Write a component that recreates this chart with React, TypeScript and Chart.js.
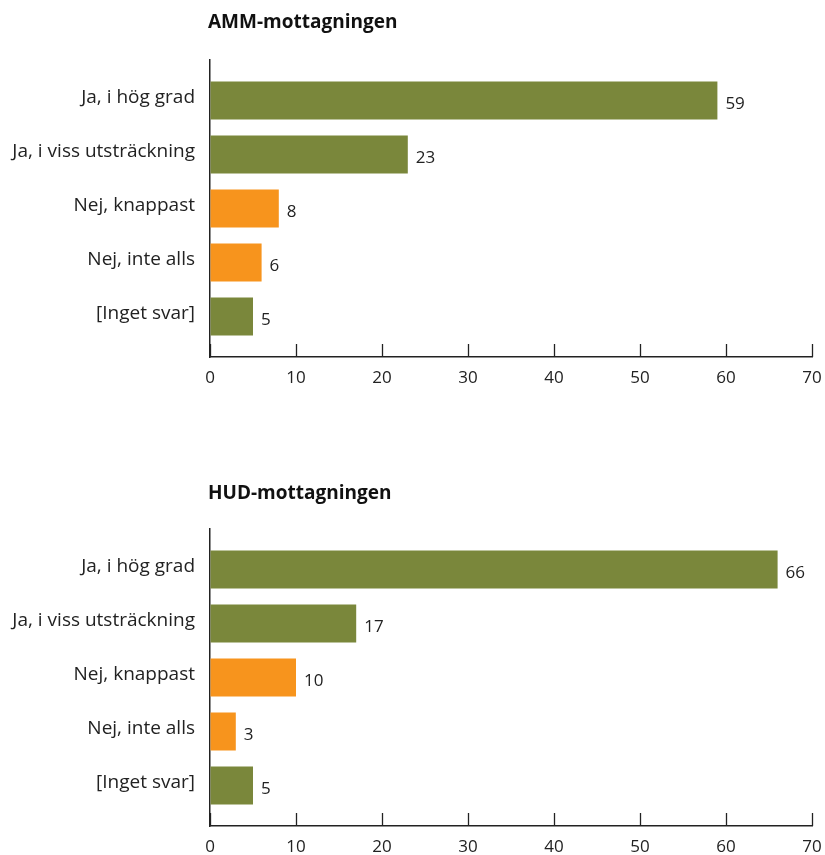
import React, { useEffect, useRef } from "react";
import { Chart, registerables } from "chart.js";

Chart.register(...registerables);

const categories = [
  "Ja, i hög grad",
  "Ja, i viss utsträckning",
  "Nej, knappast",
  "Nej, inte alls",
  "[Inget svar]",
];
const ammValues = [59, 23, 8, 6, 5];
const hudValues = [66, 17, 10, 3, 5];
const GREEN = "#7a873b";
const ORANGE = "#f7941d";
const barColors = [GREEN, GREEN, ORANGE, ORANGE, GREEN];
const xTickValues = [0, 10, 20, 30, 40, 50, 60, 70];

const FONT = "'Open Sans', 'Noto Sans', sans-serif";
const TEXT = "#222222";
const AXIS = "#222222";

function makeConfig(title: string, values: number[], height: number, titleY: number): any {
  const titlePlugin = {
    id: "customTitle",
    afterDraw(chart: any) {
      const ctx = chart.ctx;
      ctx.save();
      ctx.font = `bold 19px ${FONT}`;
      ctx.fillStyle = "#111";
      ctx.textAlign = "left";
      ctx.textBaseline = "alphabetic";
      ctx.fillText(title, 208, titleY);
      ctx.restore();
    },
  };
  const upTicks = {
    id: "upTicks",
    afterDraw(chart: any) {
      const ctx = chart.ctx;
      const xs = chart.scales.x;
      const bottom = chart.chartArea.bottom;
      ctx.save();
      ctx.strokeStyle = AXIS;
      ctx.lineWidth = 1.3;
      xTickValues.forEach((v) => {
        const px = Math.round(xs.getPixelForValue(v)) + 0.5;
        ctx.beginPath();
        ctx.moveTo(px, bottom - 13);
        ctx.lineTo(px, bottom);
        ctx.stroke();
      });
      ctx.restore();
    },
  };
  const valueLabels = {
    id: "valueLabels",
    afterDatasetsDraw(chart: any) {
      const ctx = chart.ctx;
      const meta = chart.getDatasetMeta(0);
      ctx.save();
      ctx.font = `17px ${FONT}`;
      ctx.fillStyle = TEXT;
      ctx.textAlign = "left";
      ctx.textBaseline = "middle";
      meta.data.forEach((bar: any, i: number) => {
        ctx.fillText(String(values[i]), bar.x + 8, bar.y + 4);
      });
      ctx.restore();
    },
  };
  return {
    type: "bar",
    data: {
      datasets: [
        {
          data: values.map((v, i) => ({ x: v, y: i })),
          backgroundColor: barColors,
          borderWidth: 0,
          categoryPercentage: 1,
          barPercentage: 0.7,
        },
      ],
    },
    options: {
      indexAxis: "y",
      animation: false,
      responsive: false,
      maintainAspectRatio: false,
      layout: { padding: { top: 60, right: 13, left: 0, bottom: 0 } },
      plugins: {
        legend: { display: false },
        title: { display: false },
        tooltip: { enabled: false },
      },
      scales: {
        x: {
          type: "linear",
          min: 0,
          max: 70,
          offset: false,
          afterBuildTicks(scale: any) {
            scale.ticks = xTickValues.map((v) => ({ value: v }));
          },
          afterFit(scale: any) {
            scale.height = height - 357;
            scale.paddingRight = 0;
            scale.paddingLeft = 0;
          },
          grid: { display: true, drawOnChartArea: false, drawTicks: false },
          border: { display: true, color: AXIS, width: 1.5 },
          ticks: {
            padding: 11,
            color: TEXT,
            font: { family: FONT, size: 17 },
            maxRotation: 0,
          },
        },
        y: {
          type: "linear",
          reverse: true,
          offset: false,
          min: -0.75,
          max: 4.75,
          afterBuildTicks(scale: any) {
            scale.ticks = categories.map((_, i) => ({ value: i }));
          },
          afterFit(scale: any) {
            scale.width = 210;
          },
          grid: { display: true, drawOnChartArea: false, drawTicks: false },
          border: { display: true, color: AXIS, width: 1.5 },
          ticks: {
            padding: 15,
            labelOffset: -3,
            color: TEXT,
            font: { family: FONT, size: 19 },
            callback: (v: number) => categories[v] ?? "",
          },
        },
      },
    },
    plugins: [titlePlugin, upTicks, valueLabels],
  };
}

function BarChart({ title, values, top, height, titleY }: { title: string; values: number[]; top: number; height: number; titleY: number }) {
  const ref = useRef<HTMLCanvasElement | null>(null);
  useEffect(() => {
    if (!ref.current) return;
    const chart = new Chart(ref.current, makeConfig(title, values, height, titleY));
    return () => chart.destroy();
  }, [title, values, height, titleY]);
  return (
    <div style={{ position: "absolute", left: 0, top, width: 825, height }}>
      <canvas ref={ref} width={825} height={height} style={{ width: 825, height, display: "block" }} />
    </div>
  );
}

export default function App() {
  return (
    <div style={{ position: "absolute", left: 0, top: 0, width: 825, height: 855, overflow: "hidden", background: "#fff" }}>
      <BarChart title="AMM-mottagningen" values={ammValues} top={0} height={469} titleY={28} />
      <BarChart title="HUD-mottagningen" values={hudValues} top={469} height={386} titleY={30} />
    </div>
  );
}
